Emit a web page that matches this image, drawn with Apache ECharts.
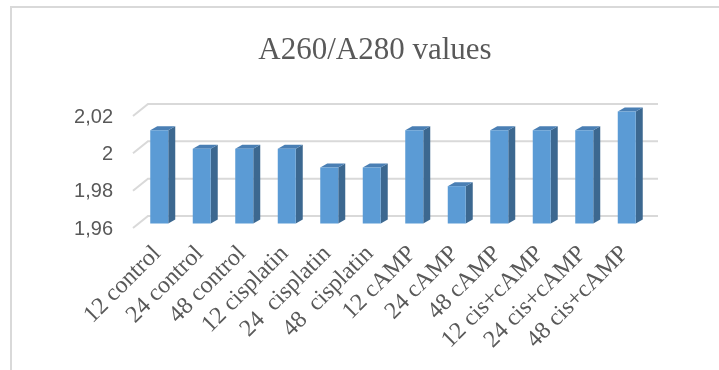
<!DOCTYPE html>
<html>
<head>
<meta charset="utf-8">
<style>
  html, body { margin: 0; padding: 0; background: #fff; }
  #chart { width: 719px; height: 370px; }
</style>
<script src="https://cdn.jsdelivr.net/npm/echarts@6/dist/echarts.min.js"></script>
</head>
<body>
<div id="chart"></div>
<script>
// A260/A280 ratio per sample group
const categories = [
  '12 control', '24 control', '48 control',
  '12 cisplatin', '24  cisplatin', '48  cisplatin',
  '12 cAMP', '24 cAMP', '48 cAMP',
  '12 cis+cAMP', '24 cis+cAMP', '48 cis+cAMP'
];
const values = [2.01, 2.00, 2.00, 2.00, 1.99, 1.99, 2.01, 1.98, 2.01, 2.01, 2.01, 2.02];
const yTicks = [1.96, 1.98, 2.00, 2.02];
const yTickLabels = ['1,96', '1,98', '2', '2,02'];

const chart = echarts.init(document.getElementById('chart'), null, { renderer: 'canvas' });

// pseudo-3D offsets
const FLOOR_DX = -15, FLOOR_DY = 12;   // front edge of the wall gridlines
const FACE_DX = -10, FACE_DY = 7.5;    // front face of each column
const DEPTH_DX = 7, DEPTH_DY = -4;     // column depth
const BAR_W = 18;
const LABEL_GAP = 20;                  // gap between tick label and front edge of gridline

// wall gridline with its tick label sitting at the front edge
function renderGridLine(params, api) {
  const cs = params.coordSys;
  const y = api.coord([0, api.value(1)])[1];
  return {
    type: 'group',
    silent: true,
    children: [
      {
        type: 'polyline',
        shape: { points: [[cs.x + FLOOR_DX, y + FLOOR_DY], [cs.x, y], [cs.x + cs.width, y]] },
        style: { stroke: '#d9d9d9', lineWidth: 2, fill: null }
      },
      {
        type: 'text',
        x: cs.x + FLOOR_DX - LABEL_GAP,
        y: y + FLOOR_DY + 1,
        style: {
          text: yTickLabels[params.dataIndex],
          align: 'right',
          verticalAlign: 'middle',
          fontFamily: 'Liberation Sans',
          fontSize: 20,
          fill: '#595959'
        }
      }
    ]
  };
}

function renderBar(params, api) {
  const top = api.coord([api.value(0), api.value(1)]);
  const base = api.coord([api.value(0), yTicks[0]]);
  const x0 = top[0] + FACE_DX - BAR_W / 2;
  const x1 = x0 + BAR_W;
  const yt = top[1] + FACE_DY;
  const yb = base[1] + FACE_DY;
  return {
    type: 'group',
    children: [
      {
        type: 'polygon',
        shape: { points: [[x1, yt], [x1 + DEPTH_DX, yt + DEPTH_DY], [x1 + DEPTH_DX, yb + DEPTH_DY], [x1, yb]] },
        style: { fill: '#3c6890' }
      },
      {
        type: 'polygon',
        shape: { points: [[x0, yt], [x0 + DEPTH_DX, yt + DEPTH_DY], [x1 + DEPTH_DX, yt + DEPTH_DY], [x1, yt]] },
        style: { fill: '#4a7fb4' }
      },
      {
        type: 'rect',
        shape: { x: x0, y: yt, width: BAR_W, height: yb - yt },
        style: { fill: '#5b9bd5' }
      }
    ]
  };
}

chart.setOption({
  animation: false,
  backgroundColor: '#ffffff',
  title: {
    text: 'A260/A280 values',
    left: 370,
    textAlign: 'center',
    top: 30,
    textStyle: { fontFamily: 'Liberation Serif', fontSize: 31, fontWeight: 'normal', color: '#595959' }
  },
  graphic: [{
    type: 'rect',
    shape: { x: 11, y: 7, width: 900, height: 600 },
    style: { fill: null, stroke: '#d9d9d9', lineWidth: 2 },
    silent: true
  }],
  grid: { left: 148, right: 61, top: 104, bottom: 154 },
  xAxis: {
    type: 'category',
    data: categories,
    axisLine: { show: false },
    axisTick: { show: false },
    axisLabel: {
      interval: 0,
      rotate: 45,
      margin: 22,
      padding: [0, 17, 0, 0],
      fontFamily: 'Liberation Serif',
      fontSize: 24,
      color: '#595959'
    }
  },
  yAxis: {
    type: 'value',
    min: 1.96,
    max: 2.02,
    interval: 0.02,
    axisLine: { show: false },
    axisTick: { show: false },
    splitLine: { show: false },
    axisLabel: { show: false }
  },
  series: [
    {
      type: 'custom',
      name: 'gridlines',
      renderItem: renderGridLine,
      data: yTicks.map(v => [0, v]),
      silent: true,
      clip: false,
      z: 1
    },
    {
      type: 'custom',
      name: 'A260/A280',
      renderItem: renderBar,
      data: values.map((v, i) => [i, v]),
      clip: false,
      z: 2
    }
  ]
});
</script>
</body>
</html>
